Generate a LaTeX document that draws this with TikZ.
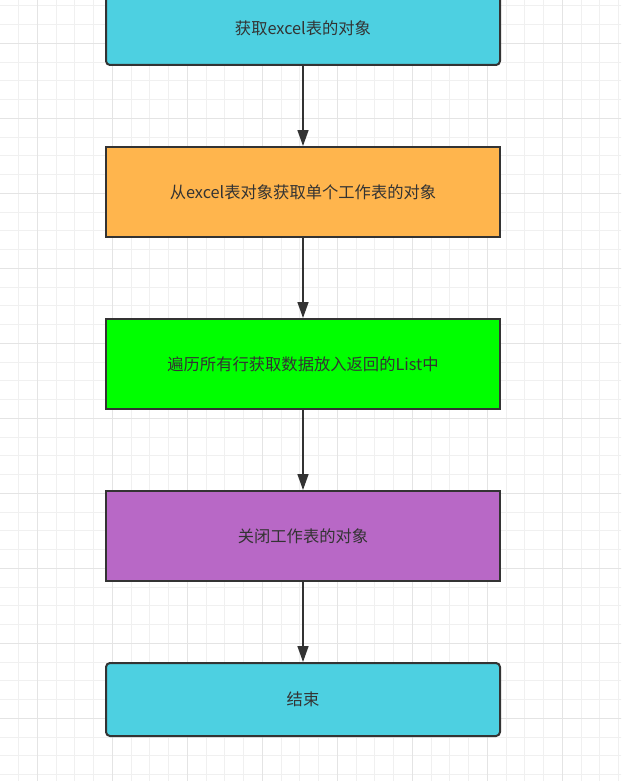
\documentclass[tikz,border=0pt]{standalone}
\usepackage{fontspec}
\setmainfont{Noto Sans CJK SC}
\usepackage{tikz}
\usepackage{xcolor}
\usetikzlibrary{positioning,arrows.meta}

\definecolor{boxcyan}{HTML}{4DD0E1}
\definecolor{boxorange}{HTML}{FFB54D}
\definecolor{boxgreen}{HTML}{00FF00}
\definecolor{boxpurple}{HTML}{B868C6}
\definecolor{edgegray}{HTML}{333333}
\definecolor{gridminor}{HTML}{F0F0F0}
\definecolor{gridmajor}{HTML}{E4E4E4}

\begin{document}
\begin{tikzpicture}[->,>={Triangle[length=16pt,width=11pt]},x=1pt,y=1pt,
                    node distance=80pt,semithick,draw=edgegray]
  \tikzstyle{every node}=[draw=edgegray,line width=2pt,text=edgegray,
                          font=\fontsize{16.3pt}{19pt}\selectfont,
                          minimum width=394pt,align=center]
  \tikzstyle{endbox}=[fill=boxcyan,rounded corners=4pt,minimum height=73pt]
  \tikzstyle{workbox}=[minimum height=90pt]

  \useasboundingbox (0,0) rectangle (621,-781);
  \clip (0,0) rectangle (621,-781);
  \fill[white] (0,0) rectangle (621,-781);

  % background grid
  \begin{scope}[-,shift={(37.3,-43.3)}]
    \draw[gridminor,line width=1pt] (-60,-760) grid[step=18.75] (600,60);
    \draw[gridmajor,line width=1.5pt] (-60,-760) grid[step=75] (600,60);
  \end{scope}

  \node[endbox]              (book)  at (303,-28.5)  {获取excel表的对象};
  \node[workbox,fill=boxorange] (sheet) [below=of book]  {从excel表对象获取单个工作表的对象};
  \node[workbox,fill=boxgreen]  (rows)  [below=of sheet] {遍历所有行获取数据放入返回的List中};
  \node[workbox,fill=boxpurple] (close) [below=of rows]  {关闭工作表的对象};
  \node[endbox]              (finish) [below=of close] {结束};

  \path[draw=edgegray,line width=1.5pt]
        (book)  edge (sheet)
        (sheet) edge (rows)
        (rows)  edge (close)
        (close) edge (finish);
\end{tikzpicture}
\end{document}
